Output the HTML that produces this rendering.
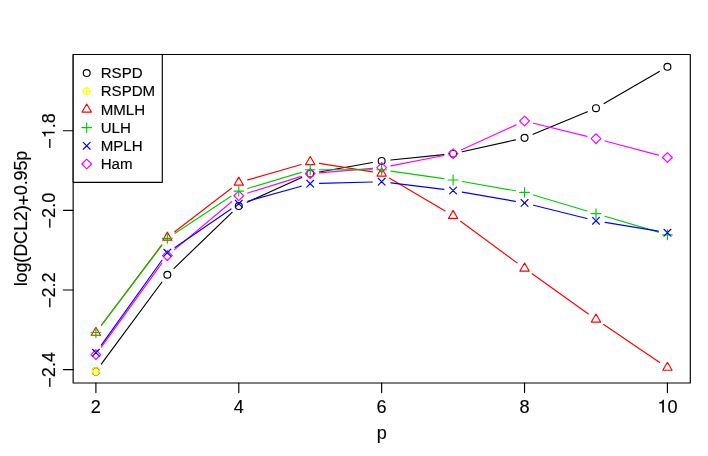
<!DOCTYPE html>
<html><head><meta charset="utf-8"><title>plot</title>
<style>html,body{margin:0;padding:0;background:#fff;}body{width:708px;height:456px;overflow:hidden;font-family:"Liberation Sans",sans-serif;}</style></head>
<body>
<svg width="708" height="456" viewBox="0 0 708 456" style="display:block;will-change:transform" font-family="'Liberation Sans', sans-serif" stroke-width="1.15" stroke-linecap="round" stroke-linejoin="round">
<rect x="0" y="0" width="708" height="456" fill="#ffffff"/>
<style>text{stroke:#000;stroke-width:0.15px;}</style>
<path d="M101.43 363.92L161.81 282.23M174.04 268.30L232.08 212.45M247.25 202.16L301.75 177.44M319.38 171.97L372.50 162.53M390.91 159.97L443.85 154.63M462.18 151.69L515.46 139.86M533.13 134.29L587.39 111.76M604.03 103.54L659.37 71.46" stroke="#000000" fill="none"/>
<circle cx="95.90" cy="371.40" r="3.45" stroke="#000000" fill="none"/>
<circle cx="167.34" cy="274.75" r="3.45" stroke="#000000" fill="none"/>
<circle cx="238.78" cy="206.00" r="3.45" stroke="#000000" fill="none"/>
<circle cx="310.22" cy="173.60" r="3.45" stroke="#000000" fill="none"/>
<circle cx="381.66" cy="160.90" r="3.45" stroke="#000000" fill="none"/>
<circle cx="453.10" cy="153.70" r="3.45" stroke="#000000" fill="none"/>
<circle cx="524.54" cy="137.85" r="3.45" stroke="#000000" fill="none"/>
<circle cx="595.98" cy="108.20" r="3.45" stroke="#000000" fill="none"/>
<circle cx="667.42" cy="66.80" r="3.45" stroke="#000000" fill="none"/>
<circle cx="95.90" cy="371.20" r="3.45" stroke="#FFFF00" fill="none"/><path d="M92.45 371.20H99.35M95.90 367.75V374.65" stroke="#FFFF00" fill="none"/>
<path d="M101.34 347.06L161.90 263.14M174.47 249.63L231.65 201.72M247.66 193.00L301.34 176.35M319.49 172.82L372.39 168.38M390.79 165.82L443.97 155.48M461.56 149.83L516.08 124.87M533.57 123.23L586.95 136.42M604.97 141.02L658.43 155.13" stroke="#FF00FF" fill="none"/>
<path d="M91.02 354.60L95.90 359.48L100.78 354.60L95.90 349.72Z" stroke="#FF00FF" fill="none"/>
<path d="M162.46 255.60L167.34 260.48L172.22 255.60L167.34 250.72Z" stroke="#FF00FF" fill="none"/>
<path d="M233.90 195.75L238.78 200.63L243.66 195.75L238.78 190.87Z" stroke="#FF00FF" fill="none"/>
<path d="M305.34 173.60L310.22 178.48L315.10 173.60L310.22 168.72Z" stroke="#FF00FF" fill="none"/>
<path d="M376.78 167.60L381.66 172.48L386.54 167.60L381.66 162.72Z" stroke="#FF00FF" fill="none"/>
<path d="M448.22 153.70L453.10 158.58L457.98 153.70L453.10 148.82Z" stroke="#FF00FF" fill="none"/>
<path d="M519.66 121.00L524.54 125.88L529.42 121.00L524.54 116.12Z" stroke="#FF00FF" fill="none"/>
<path d="M591.10 138.65L595.98 143.53L600.86 138.65L595.98 133.77Z" stroke="#FF00FF" fill="none"/>
<path d="M662.54 157.50L667.42 162.38L672.30 157.50L667.42 152.62Z" stroke="#FF00FF" fill="none"/>
<path d="M101.49 325.16L161.75 244.94M174.71 231.83L231.41 188.17M247.72 179.92L301.28 164.48M319.40 163.38L372.48 171.92M389.66 178.14L445.10 211.01M460.59 221.27L517.05 262.88M532.11 273.80L588.41 314.00M603.69 324.60L659.71 362.40" stroke="#FF0000" fill="none"/>
<path d="M95.90 327.23L100.55 335.28L91.25 335.28Z" stroke="#FF0000" fill="none"/>
<path d="M167.34 232.13L171.99 240.18L162.69 240.18Z" stroke="#FF0000" fill="none"/>
<path d="M238.78 177.13L243.43 185.18L234.13 185.18Z" stroke="#FF0000" fill="none"/>
<path d="M310.22 156.53L314.87 164.58L305.57 164.58Z" stroke="#FF0000" fill="none"/>
<path d="M381.66 168.03L386.31 176.08L377.01 176.08Z" stroke="#FF0000" fill="none"/>
<path d="M453.10 210.38L457.75 218.43L448.45 218.43Z" stroke="#FF0000" fill="none"/>
<path d="M524.54 263.03L529.19 271.08L519.89 271.08Z" stroke="#FF0000" fill="none"/>
<path d="M595.98 314.03L600.63 322.08L591.33 322.08Z" stroke="#FF0000" fill="none"/>
<path d="M667.42 362.23L672.07 370.28L662.77 370.28Z" stroke="#FF0000" fill="none"/>
<path d="M101.52 325.09L161.72 245.71M175.10 233.17L231.02 196.23M247.69 188.43L301.31 172.37M319.52 169.71L372.36 169.74M390.87 171.06L443.89 178.64M462.26 181.55L515.38 190.80M533.46 195.05L587.06 210.95M604.90 216.25L658.50 232.15" stroke="#00CD00" fill="none"/>
<path d="M91.02 332.50H100.78M95.90 327.62V337.38" stroke="#00CD00" fill="none"/>
<path d="M162.46 238.30H172.22M167.34 233.42V243.18" stroke="#00CD00" fill="none"/>
<path d="M233.90 191.10H243.66M238.78 186.22V195.98" stroke="#00CD00" fill="none"/>
<path d="M305.34 169.70H315.10M310.22 164.82V174.58" stroke="#00CD00" fill="none"/>
<path d="M376.78 169.75H386.54M381.66 164.87V174.63" stroke="#00CD00" fill="none"/>
<path d="M448.22 179.95H457.98M453.10 175.07V184.83" stroke="#00CD00" fill="none"/>
<path d="M519.66 192.40H529.42M524.54 187.52V197.28" stroke="#00CD00" fill="none"/>
<path d="M591.10 213.60H600.86M595.98 208.72V218.48" stroke="#00CD00" fill="none"/>
<path d="M662.54 234.80H672.30M667.42 229.92V239.68" stroke="#00CD00" fill="none"/>
<path d="M101.31 345.13L161.93 260.27M175.01 247.44L231.11 208.96M247.74 201.19L301.26 186.21M319.52 183.44L372.36 181.96M390.89 182.84L443.87 189.36M462.26 192.10L515.38 201.35M533.56 205.20L586.96 218.55M605.15 222.33L658.25 231.17" stroke="#0000FF" fill="none"/>
<path d="M92.45 349.25L99.35 356.15M92.45 356.15L99.35 349.25" stroke="#0000FF" fill="none"/>
<path d="M163.89 249.25L170.79 256.15M163.89 256.15L170.79 249.25" stroke="#0000FF" fill="none"/>
<path d="M235.33 200.25L242.23 207.15M235.33 207.15L242.23 200.25" stroke="#0000FF" fill="none"/>
<path d="M306.77 180.25L313.67 187.15M306.77 187.15L313.67 180.25" stroke="#0000FF" fill="none"/>
<path d="M378.21 178.25L385.11 185.15M378.21 185.15L385.11 178.25" stroke="#0000FF" fill="none"/>
<path d="M449.65 187.05L456.55 193.95M449.65 193.95L456.55 187.05" stroke="#0000FF" fill="none"/>
<path d="M521.09 199.50L527.99 206.40M521.09 206.40L527.99 199.50" stroke="#0000FF" fill="none"/>
<path d="M592.53 217.35L599.43 224.25M592.53 224.25L599.43 217.35" stroke="#0000FF" fill="none"/>
<path d="M663.97 229.25L670.87 236.15M663.97 236.15L670.87 229.25" stroke="#0000FF" fill="none"/>
<rect x="73.15" y="54.5" width="617.15" height="328.50" fill="none" stroke="#000"/>
<path d="M95.90 383.0V392.60M238.78 383.0V392.60M381.66 383.0V392.60M524.54 383.0V392.60M667.42 383.0V392.60" stroke="#000" fill="none"/>
<text x="95.90" y="412.6" font-size="18.1" text-anchor="middle" fill="#000">2</text>
<text x="238.78" y="412.6" font-size="18.1" text-anchor="middle" fill="#000">4</text>
<text x="381.66" y="412.6" font-size="18.1" text-anchor="middle" fill="#000">6</text>
<text x="524.54" y="412.6" font-size="18.1" text-anchor="middle" fill="#000">8</text>
<path d="M662.24 412.60L662.24 403.50L659.18 403.50L659.18 402.36C661.27 402.21 662.35 401.41 662.84 399.77L663.91 399.77L663.91 412.60Z" fill="#000" stroke="none"/>
<text x="667.42" y="412.6" font-size="18.1" fill="#000">0</text>
<path d="M73.15 130.70H63.35M73.15 210.35H63.35M73.15 290.00H63.35M73.15 369.60H63.35" stroke="#000" fill="none"/>
<g transform="translate(54.7 130.95) rotate(-90)"><text x="-17.86" y="1.4" font-size="18.1" fill="#000">−</text><path d="M-2.41 0.00L-2.41 -9.10L-5.47 -9.10L-5.47 -10.24C-3.38 -10.39 -2.30 -11.19 -1.81 -12.83L-0.74 -12.83L-0.74 0.00Z" fill="#000" stroke="none"/><text x="2.77" y="0" font-size="18.1" fill="#000">.8</text></g>
<text transform="translate(54.7 210.60) rotate(-90)" font-size="18.1" text-anchor="middle" fill="#000"><tspan dy="1.4">−</tspan><tspan dy="-1.4">2.0</tspan></text>
<text transform="translate(54.7 290.25) rotate(-90)" font-size="18.1" text-anchor="middle" fill="#000"><tspan dy="1.4">−</tspan><tspan dy="-1.4">2.2</tspan></text>
<text transform="translate(54.7 369.85) rotate(-90)" font-size="18.1" text-anchor="middle" fill="#000"><tspan dy="1.4">−</tspan><tspan dy="-1.4">2.4</tspan></text>
<text x="381.7" y="439.3" font-size="18.1" text-anchor="middle" fill="#000">p</text>
<text id="ylab" transform="translate(27.4 218.45) rotate(-90)" font-size="18.1" text-anchor="middle" textLength="135.7" lengthAdjust="spacing" fill="#000">log(DCL2)<tspan dy="2.6">+</tspan><tspan dy="-2.6">0.95p</tspan></text>
<rect x="73.2" y="54.5" width="89.10" height="127.80" fill="#fff" stroke="#000"/>
<circle cx="86.70" cy="73.00" r="3.45" stroke="#000000" fill="none"/>
<text x="100.7" y="78.10" font-size="15.1" fill="#000">RSPD</text>
<circle cx="86.70" cy="91.20" r="3.45" stroke="#FFFF00" fill="none"/><path d="M83.25 91.20H90.15M86.70 87.75V94.65" stroke="#FFFF00" fill="none"/>
<text x="100.7" y="96.30" font-size="15.1" fill="#000">RSPDM</text>
<path d="M86.70 104.03L91.35 112.08L82.05 112.08Z" stroke="#FF0000" fill="none"/>
<text x="100.7" y="114.50" font-size="15.1" fill="#000">MMLH</text>
<path d="M81.82 127.60H91.58M86.70 122.72V132.48" stroke="#00CD00" fill="none"/>
<text x="100.7" y="132.70" font-size="15.1" fill="#000">ULH</text>
<path d="M83.25 142.35L90.15 149.25M83.25 149.25L90.15 142.35" stroke="#0000FF" fill="none"/>
<text x="100.7" y="150.90" font-size="15.1" fill="#000">MPLH</text>
<path d="M81.82 164.00L86.70 168.88L91.58 164.00L86.70 159.12Z" stroke="#FF00FF" fill="none"/>
<text x="100.7" y="169.10" font-size="15.1" fill="#000">Ham</text>
</svg>
</body></html>
